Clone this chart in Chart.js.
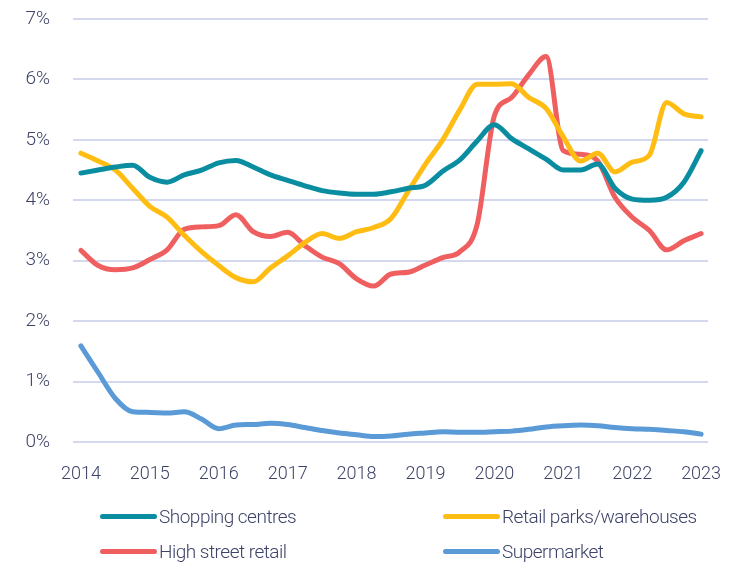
<!DOCTYPE html>
<html>
<head>
<meta charset="utf-8">
<script src="https://cdn.jsdelivr.net/npm/chart.js@4/dist/chart.umd.min.js"></script>
<style>
  body { margin: 0; background: #fff; }
  #wrap { position: relative; width: 734px; height: 565px; }
  .leg { position: absolute; display: flex; align-items: center; font-family: "Roboto", sans-serif; font-weight: 300; font-size: 19px; letter-spacing: -0.5px; color: #3d4368; }
  .leg span.ln { display: inline-block; width: 57px; height: 5px; border-radius: 3px; margin-right: 2px; }
</style>
</head>
<body>
<div id="wrap">
  <canvas id="chart" width="734" height="565"></canvas>
  <div id="legend"></div>
</div>
<script>
// quarterly points, 2014 Q1 .. 2023 Q1
const years = ['2014', '2015', '2016', '2017', '2018', '2019', '2020', '2021', '2022', '2023'];

const shoppingCentres = [4.45, 4.50, 4.55, 4.58, 4.38, 4.30, 4.42, 4.50, 4.62, 4.66, 4.55, 4.42, 4.33,
  4.24, 4.16, 4.12, 4.10, 4.10, 4.14, 4.20, 4.25, 4.48, 4.67, 4.98, 5.25, 5.02, 4.85, 4.68, 4.50,
  4.50, 4.60, 4.20, 4.02, 4.00, 4.05, 4.30, 4.82];
const retailParks = [4.78, 4.65, 4.50, 4.20, 3.90, 3.72, 3.42, 3.15, 2.92, 2.72, 2.65, 2.88, 3.08,
  3.30, 3.45, 3.37, 3.48, 3.55, 3.70, 4.15, 4.60, 5.00, 5.50, 5.92, 5.92, 5.93, 5.70, 5.52, 5.05,
  4.65, 4.78, 4.47, 4.63, 4.75, 5.62, 5.43, 5.38];
const highStreet = [3.17, 2.92, 2.85, 2.88, 3.02, 3.18, 3.52, 3.56, 3.58, 3.76, 3.48, 3.40, 3.47,
  3.25, 3.06, 2.95, 2.70, 2.58, 2.78, 2.81, 2.93, 3.05, 3.15, 3.60, 5.40, 5.70, 6.08, 6.38, 4.82,
  4.76, 4.65, 4.05, 3.72, 3.50, 3.18, 3.33, 3.45];
const supermarket = [1.59, 1.15, 0.72, 0.50, 0.49, 0.48, 0.50, 0.38, 0.22, 0.28, 0.29, 0.31, 0.29,
  0.24, 0.19, 0.15, 0.12, 0.09, 0.10, 0.13, 0.15, 0.17, 0.16, 0.16, 0.17, 0.18, 0.21, 0.25, 0.27,
  0.28, 0.27, 0.24, 0.22, 0.21, 0.19, 0.17, 0.13];

const seriesNames = ['Shopping centres', 'Retail parks/warehouses', 'High street retail', 'Supermarket'];
const seriesColors = ['#0a8da1', '#ffbd14', '#f05f60', '#5a9ad6'];
const seriesData = [shoppingCentres, retailParks, highStreet, supermarket];

const font = "'Roboto', sans-serif";
const textColor = '#3d4368';

const datasets = seriesData.map((vals, k) => ({
  label: seriesNames[k],
  data: vals.map((v, i) => ({ x: i, y: v })),
  borderColor: seriesColors[k],
  backgroundColor: seriesColors[k],
  borderWidth: 5,
  pointRadius: 0,
  cubicInterpolationMode: 'monotone',
  borderCapStyle: 'round',
  borderJoinStyle: 'round',
  fill: false
}));

const ctx = document.getElementById('chart').getContext('2d');
const chart = new Chart(ctx, {
  type: 'line',
  data: { datasets: datasets },
  options: {
    responsive: false,
    animation: false,
    layout: { padding: { top: 19, right: 26, bottom: 83, left: 0 } },
    plugins: { legend: { display: false }, tooltip: { enabled: false } },
    scales: {
      x: {
        type: 'linear',
        min: -0.46,
        max: 36.4,
        grid: { display: false },
        border: { display: false },
        afterFit: s => { s.height = 40; s.paddingLeft = 0; s.paddingRight = 0; },
        afterBuildTicks: s => { s.ticks = years.map((y, k) => ({ value: k * 4 })); },
        ticks: {
          autoSkip: false,
          maxRotation: 0,
          padding: 14,
          color: textColor,
          font: { family: font, size: 18, weight: 300 },
          callback: v => years[Math.round(v / 4)]
        }
      },
      y: {
        min: 0,
        max: 7,
        afterFit: s => { s.width = 73; s.paddingTop = 0; s.paddingBottom = 0; },
        border: { display: false },
        grid: { color: '#d4d8ee', lineWidth: 2, drawTicks: false },
        ticks: {
          stepSize: 1,
          padding: 23,
          color: textColor,
          font: { family: font, size: 19, weight: 300 },
          callback: v => v + '%'
        }
      }
    }
  }
});

// two-column legend below the plot
const legendPos = [[100, 516], [443, 516], [100, 551], [443, 551]];
const legend = document.getElementById('legend');
seriesNames.forEach((name, k) => {
  const d = document.createElement('div');
  d.className = 'leg';
  d.style.left = legendPos[k][0] + 'px';
  d.style.top = (legendPos[k][1] - 13) + 'px';
  d.style.height = '26px';
  d.innerHTML = '<span class="ln" style="background:' + seriesColors[k] + '"></span>' + name;
  legend.appendChild(d);
});
</script>
</body>
</html>
